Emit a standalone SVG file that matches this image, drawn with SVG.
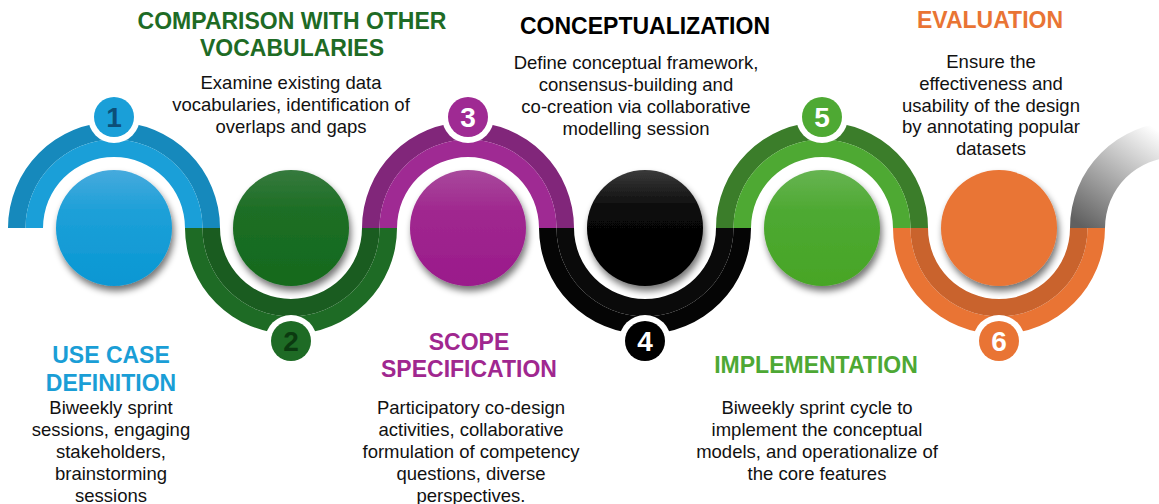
<svg xmlns="http://www.w3.org/2000/svg" width="1159" height="504" viewBox="0 0 1159 504">
<defs>
<filter id="sh" x="-30%" y="-30%" width="160%" height="160%">
<feGaussianBlur in="SourceAlpha" stdDeviation="3.5"/>
<feOffset dx="2" dy="5" result="b"/>
<feComponentTransfer><feFuncA type="linear" slope="0.55"/></feComponentTransfer>
<feMerge><feMergeNode/><feMergeNode in="SourceGraphic"/></feMerge>
</filter>
<linearGradient id="g1" x1="0" y1="0" x2="0" y2="1"><stop offset="0" stop-color="#46aadd"/><stop offset="0.35" stop-color="#1ea0d8"/><stop offset="1" stop-color="#0897d3"/></linearGradient>
<linearGradient id="g2" x1="0" y1="0" x2="0" y2="1"><stop offset="0" stop-color="#367a3d"/><stop offset="0.35" stop-color="#1d6e25"/><stop offset="1" stop-color="#136a1d"/></linearGradient>
<linearGradient id="g3" x1="0" y1="0" x2="0" y2="1"><stop offset="0" stop-color="#a84a9c"/><stop offset="0.35" stop-color="#a0288f"/><stop offset="1" stop-color="#9a1a8b"/></linearGradient>
<linearGradient id="g4" x1="0" y1="0" x2="0" y2="1"><stop offset="0" stop-color="#3a3a3a"/><stop offset="0.35" stop-color="#080808"/><stop offset="1" stop-color="#000"/></linearGradient>
<linearGradient id="g5" x1="0" y1="0" x2="0" y2="1"><stop offset="0" stop-color="#67b452"/><stop offset="0.35" stop-color="#4ea932"/><stop offset="1" stop-color="#47a526"/></linearGradient>
<linearGradient id="gg" gradientUnits="userSpaceOnUse" x1="1080" y1="225" x2="1150" y2="125"><stop offset="0" stop-color="#606060"/><stop offset="1" stop-color="#ffffff"/></linearGradient>
<style>
.t{font-family:"Liberation Sans",Arial,sans-serif;font-weight:bold;font-size:23px;text-anchor:middle}
.b{font-family:"Liberation Sans",Arial,sans-serif;font-size:18.5px;fill:#111;text-anchor:middle}
.n{font-family:"Liberation Sans",Arial,sans-serif;font-weight:bold;font-size:28px;text-anchor:middle;fill:#fff}
.ring{fill:#fff}
</style>
</defs>
<rect width="1159" height="504" fill="#fff"/>
<g id="connectors">
<path d="M8,228 A106,106 0 0 1 220,228 L202.5,228 A88.5,88.5 0 0 0 25.5,228 Z" fill="#1689bc"/>
<path d="M25.5,228 A88.5,88.5 0 0 1 202.5,228 L185,228 A71,71 0 0 0 43,228 Z" fill="#1a9fd8"/>
<path d="M185,228 A106,106 0 0 0 397,228 L379.5,228 A88.5,88.5 0 0 1 202.5,228 Z" fill="#1e6b25"/>
<path d="M202.5,228 A88.5,88.5 0 0 0 379.5,228 L362,228 A71,71 0 0 1 220,228 Z" fill="#1a5c20"/>
<path d="M362,228 A106,106 0 0 1 574,228 L556.5,228 A88.5,88.5 0 0 0 379.5,228 Z" fill="#81267a"/>
<path d="M379.5,228 A88.5,88.5 0 0 1 556.5,228 L539,228 A71,71 0 0 0 397,228 Z" fill="#9f2a93"/>
<path d="M539,228 A106,106 0 0 0 751,228 L733.5,228 A88.5,88.5 0 0 1 556.5,228 Z" fill="#050505"/>
<path d="M556.5,228 A88.5,88.5 0 0 0 733.5,228 L716,228 A71,71 0 0 1 574,228 Z" fill="#0a0a0a"/>
<path d="M716,228 A106,106 0 0 1 928,228 L910.5,228 A88.5,88.5 0 0 0 733.5,228 Z" fill="#3b7d2a"/>
<path d="M733.5,228 A88.5,88.5 0 0 1 910.5,228 L893,228 A71,71 0 0 0 751,228 Z" fill="#4ea933"/>
<path d="M893,228 A106,106 0 0 0 1105,228 L1087.5,228 A88.5,88.5 0 0 1 910.5,228 Z" fill="#e97434"/>
<path d="M910.5,228 A88.5,88.5 0 0 0 1087.5,228 L1070,228 A71,71 0 0 1 928,228 Z" fill="#c9632d"/>
<path d="M1070,228 A106,106 0 0 1 1282,228 L1247,228 A71,71 0 0 0 1105,228 Z" fill="url(#gg)"/>
</g>
<g id="stage1">
<circle cx="114" cy="228" r="58" fill="url(#g1)" filter="url(#sh)"/>
<circle class="ring" cx="114" cy="117" r="26"/>
<circle cx="114" cy="117" r="20" fill="#1a9fd8"/>
<text class="n" x="114" y="127" style="fill:#0c4f78">1</text>
<text class="t" x="111" y="363" fill="#1a9ed6">USE CASE</text>
<text class="t" x="111" y="391" fill="#1a9ed6">DEFINITION</text>
<text class="b"><tspan x="111" y="414">Biweekly sprint</tspan><tspan x="111" y="436">sessions, engaging</tspan><tspan x="111" y="458">stakeholders,</tspan><tspan x="111" y="480">brainstorming</tspan><tspan x="111" y="502">sessions</tspan></text>
</g>
<g id="stage2">
<circle cx="291" cy="228" r="58" fill="url(#g2)" filter="url(#sh)"/>
<circle class="ring" cx="291" cy="341" r="26"/>
<circle cx="291" cy="341" r="20" fill="#1e6b25"/>
<text class="n" x="291" y="351" style="fill:#0b3a10">2</text>
<text class="t" x="292" y="29" fill="#1e6b25">COMPARISON WITH OTHER</text>
<text class="t" x="292" y="56" fill="#1e6b25">VOCABULARIES</text>
<text class="b"><tspan x="291" y="89">Examine existing data</tspan><tspan x="291" y="111">vocabularies, identification of</tspan><tspan x="291" y="133">overlaps and gaps</tspan></text>
</g>
<g id="stage3">
<circle cx="468" cy="228" r="58" fill="url(#g3)" filter="url(#sh)"/>
<circle class="ring" cx="468" cy="117" r="26"/>
<circle cx="468" cy="117" r="20" fill="#9f2a93"/>
<text class="n" x="468" y="127">3</text>
<text class="t" x="469" y="350" fill="#a0278f">SCOPE</text>
<text class="t" x="469" y="377" fill="#a0278f">SPECIFICATION</text>
<text class="b"><tspan x="471" y="414">Participatory co-design</tspan><tspan x="471" y="436">activities, collaborative</tspan><tspan x="471" y="458">formulation of competency</tspan><tspan x="471" y="480">questions, diverse</tspan><tspan x="471" y="502">perspectives.</tspan></text>
</g>
<g id="stage4">
<circle cx="645" cy="228" r="58" fill="url(#g4)" filter="url(#sh)"/>
<circle class="ring" cx="645" cy="341" r="26"/>
<circle cx="645" cy="341" r="20" fill="#000"/>
<text class="n" x="645" y="351">4</text>
<text class="t" x="645" y="34" fill="#000">CONCEPTUALIZATION</text>
<text class="b"><tspan x="636" y="69">Define conceptual framework,</tspan><tspan x="636" y="91">consensus-building and</tspan><tspan x="636" y="113">co-creation via collaborative</tspan><tspan x="636" y="135">modelling session</tspan></text>
</g>
<g id="stage5">
<circle cx="822" cy="228" r="58" fill="url(#g5)" filter="url(#sh)"/>
<circle class="ring" cx="822" cy="117" r="26"/>
<circle cx="822" cy="117" r="20" fill="#4ea933"/>
<text class="n" x="822" y="127">5</text>
<text class="t" x="816" y="373" fill="#4da834">IMPLEMENTATION</text>
<text class="b"><tspan x="817" y="414">Biweekly sprint cycle to</tspan><tspan x="817" y="436">implement the conceptual</tspan><tspan x="817" y="458">models, and operationalize of</tspan><tspan x="817" y="480">the core features</tspan></text>
</g>
<g id="stage6">
<circle cx="999" cy="228" r="58" fill="#e97434" filter="url(#sh)"/>
<circle class="ring" cx="999" cy="341" r="26"/>
<circle cx="999" cy="341" r="20" fill="#e97434"/>
<text class="n" x="999" y="351">6</text>
<text class="t" x="990" y="28" fill="#e97434">EVALUATION</text>
<text class="b"><tspan x="991" y="68">Ensure the</tspan><tspan x="991" y="90">effectiveness and</tspan><tspan x="991" y="112">usability of the design</tspan><tspan x="991" y="133">by annotating popular</tspan><tspan x="991" y="155">datasets</tspan></text>
</g>
</svg>
